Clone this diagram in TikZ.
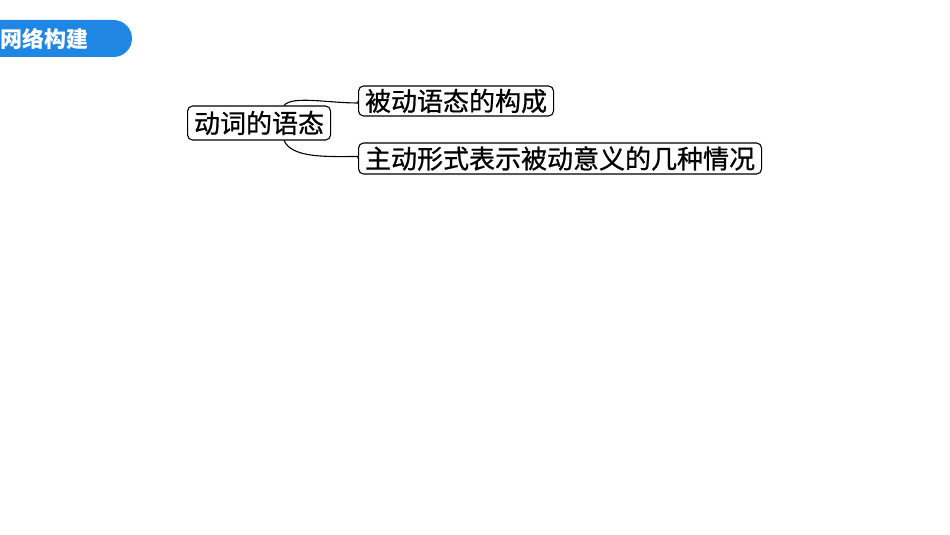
\documentclass[tikz,border=0pt]{standalone}
\usepackage{fontspec}
\newfontfamily\cjk{Noto Sans CJK SC}
\newfontfamily\cjkm[FakeBold=0.8]{Noto Sans CJK SC}
\definecolor{bannerblue}{RGB}{31,134,228}
\begin{document}
\begin{tikzpicture}[x=1pt,y=-1pt,
  box/.style={draw=black,line width=1.1pt,rounded corners=5pt,inner xsep=6.5pt,inner ysep=0pt,minimum height=31pt,font=\cjkm\fontsize{26}{28}\selectfont,anchor=west},
  link/.style={draw=black,line width=1.1pt}]
\useasboundingbox (0,0) rectangle (950,535);
\fill[bannerblue,rounded corners=18.5pt] (-30,20) rectangle (132,57);
\node[text=white,font=\cjk\bfseries\fontsize{22}{24}\selectfont,inner sep=0pt] (title) at (44,39) {网络构建};
\node[box,minimum height=34pt] (root) at (187,123) {动词的语态};
\node[box,minimum height=30pt] (n1) at (358,101) {被动语态的构成};
\node[box] (n2) at (358,158.5) {主动形式表示被动意义的几种情况};
\draw[link] ([xshift=25pt]root.north) .. controls +(8,-10) and +(-30,0) .. ([yshift=-2pt]n1.west) -- (n1.west);
\draw[link] ([xshift=25pt]root.south) .. controls +(8,18) and +(-30,0) .. ([yshift=2pt]n2.west) -- (n2.west);
\end{tikzpicture}
\end{document}
